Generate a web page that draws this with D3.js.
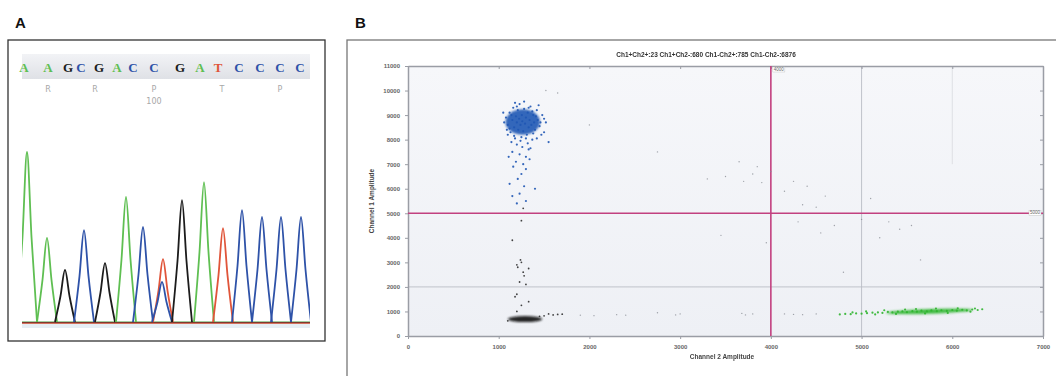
<!DOCTYPE html>
<html>
<head>
<meta charset="utf-8">
<script src="https://cdn.jsdelivr.net/npm/d3@7"></script>
<style>
  body { margin: 0; background: #fff; }
  svg { display: block; }
</style>
</head>
<body>
<svg id="fig" width="1056" height="376"></svg>
<script>
// ---------- panel A: sequencing trace ----------
const bases = ['A', 'A', 'G', 'C', 'G', 'A', 'C', 'C', 'G', 'A', 'T', 'C', 'C', 'C', 'C'];
const basePos = [2, 26, 46, 59, 77, 95, 111, 132, 158, 178, 196, 217, 238, 258, 278];
const aminoAcids = ['R', 'R', 'P', 'T', 'P'];
const aminoPos = [26, 73, 132, 200, 258];
const positionLabel = {text: '100', pos: 132};
const peakBase = ['A', 'A', 'G', 'C', 'G', 'A', 'C', 'T', 'C', 'G', 'A', 'T', 'C', 'C', 'C', 'C', 'C'];
const peakPos = [5, 25, 43, 62, 83, 104, 121, 141, 140, 160, 182, 201, 220, 240, 259, 279, 299];
const peakHeight = [934, 462, 286, 505, 324, 687, 522, 346, 220, 670, 769, 516, 615, 577, 577, 577, 560];

// ---------- panel B: droplet amplitudes ----------
const countsTitle = 'Ch1+Ch2+:23  Ch1+Ch2-:680  Ch1-Ch2+:785  Ch1-Ch2-:6876';
const thresholdCh2 = 4000;
const thresholdCh1 = 5000;
const coreCh2 = [1265, 1290, 5750];
const coreCh1 = [8720, 690, 1000];
const coreRx = [190, 190, 480];
const coreRy = [520, 120, 95];
const coreColor = ['#1f56b4', '#111111', '#2fb52f'];

const blueDroplets = [
  [1080, 8900], [1100, 8600], [1120, 9100], [1130, 8300], [1150, 8800], [1160, 9300], [1170, 8500],
  [1180, 8050], [1190, 8950], [1200, 8700], [1210, 9200], [1215, 8400], [1225, 8850], [1230, 9450],
  [1240, 8600], [1250, 8100], [1255, 9000], [1260, 8750], [1270, 8350], [1280, 9250], [1290, 8650],
  [1300, 8900], [1310, 8200], [1320, 9100], [1330, 8500], [1340, 8800], [1350, 9350], [1360, 8600],
  [1370, 8000], [1380, 9000], [1390, 8700], [1400, 8400], [1420, 9200], [1430, 8800], [1450, 8550],
  [1480, 9000], [1500, 8300], [1520, 8700], [1550, 7900], [1100, 8200], [1140, 7900], [1200, 7800],
  [1260, 7700], [1320, 7850], [1180, 9500], [1280, 9550], [1350, 7650], [1150, 7500], [1230, 7400],
  [1300, 7300], [1190, 7100], [1270, 7000], [1340, 7200], [1160, 6900], [1250, 6600], [1300, 6800],
  [1210, 6400], [1120, 6200], [1280, 6100], [1230, 5800], [1150, 5700], [1300, 5500], [1200, 5400],
  [1400, 6000], [1110, 7300], [1330, 7600], [1060, 8700], [1470, 8200], [1440, 9400], [1050, 9100],
  [1380, 8250], [1410, 8950], [1120, 8450], [1170, 8150], [1330, 9300], [1460, 8700], [1090, 8400],
  [1240, 7950], [1300, 8050], [1370, 9150], [1200, 9350], [1140, 9000], [1500, 8850], [1420, 8050]
];
const blackDroplets = [
  [1550, 900], [1600, 860], [1650, 880], [1700, 890], [1500, 820], [1450, 800], [1100, 620],
  [1200, 1000], [1250, 1250], [1200, 1700], [1330, 1400], [1230, 2200], [1270, 2600], [1210, 2800],
  [1330, 2750], [1250, 3000], [1280, 2450], [1150, 3900], [1250, 4700], [1270, 5200], [1200, 2900],
  [1300, 2100], [1240, 3100], [1180, 1600]
];
const greenDroplets = [
  [4760, 880], [4820, 900], [4880, 890], [4940, 920], [5000, 910], [5060, 930], [5120, 950],
  [5180, 960], [5230, 940], [5290, 980], [5340, 960], [5400, 990], [5450, 1000], [5500, 970],
  [5560, 1010], [5610, 990], [5660, 1030], [5720, 1000], [5770, 1040], [5830, 1010], [5880, 1050],
  [5940, 1020], [6000, 1060], [6050, 1030], [6110, 1070], [6160, 1040], [6220, 1080], [6280, 1060],
  [6330, 1090], [5250, 1050], [5480, 1080], [5700, 920], [5950, 940], [6200, 990], [5150, 880],
  [5380, 900], [5600, 1100], [5820, 1120], [6060, 1130], [6250, 1120], [5050, 1000], [4900, 960]
];
const otherDroplets = [
  [4500, 900], [4350, 870], [4250, 880], [4150, 900], [3800, 900], [3720, 860], [3680, 920],
  [3000, 900], [2950, 860], [2750, 950], [2400, 850], [2300, 870], [2050, 830], [1900, 850],
  [3500, 6500], [3700, 6300], [3800, 6600], [3900, 6250], [3650, 7100], [3850, 6900], [3300, 6400],
  [2750, 7500], [2000, 8600], [1520, 10000], [1650, 9900], [4150, 5900], [4400, 6100], [4600, 5700],
  [4500, 5250], [4350, 5350], [4300, 4650], [4700, 4500], [4550, 4200], [5300, 4650], [5420, 4350],
  [5550, 4500], [5000, 4750], [5200, 4000], [3450, 4100], [3950, 3800], [5650, 3100], [4800, 2600],
  [4000, 6700], [4250, 6300], [5100, 5600]
];

const baseColor = {A: '#5fbf52', C: '#2e52a8', G: '#1c1c1c', T: '#e0553a'};
const sans = 'Liberation Sans, Arial, sans-serif';

const svg = d3.select('#fig');
const defs = svg.append('defs');

// ===== Panel A =====
svg.append('text').attr('x', 15).attr('y', 28)
  .attr('font-family', sans).attr('font-weight', 'bold')
  .attr('font-size', 15).attr('fill', '#111').text('A');

svg.append('rect').attr('x', 8).attr('y', 40).attr('width', 317).attr('height', 301)
  .attr('fill', '#fff').attr('stroke', '#333').attr('stroke-width', 1.3);

const grad = defs.append('linearGradient').attr('id', 'band')
  .attr('x1', 0).attr('x2', 0).attr('y1', 0).attr('y2', 1);
grad.append('stop').attr('offset', 0).attr('stop-color', '#f2f3f6');
grad.append('stop').attr('offset', 1).attr('stop-color', '#dfe1e6');

const tx = d3.scaleLinear().domain([0, 288]).range([22, 310]);
const ty = d3.scaleLinear().domain([0, 1000]).range([322, 140]);

svg.append('rect').attr('x', tx(0)).attr('y', 54).attr('width', tx(288) - tx(0)).attr('height', 25)
  .attr('fill', 'url(#band)');

svg.append('g').selectAll('text').data(bases).join('text')
  .attr('x', (d, i) => tx(basePos[i])).attr('y', 72)
  .attr('text-anchor', 'middle')
  .attr('font-family', 'Liberation Serif, Times New Roman, serif').attr('font-weight', 'bold')
  .attr('font-size', 13).attr('fill', d => baseColor[d]).text(d => d);

svg.append('g').selectAll('text').data(aminoAcids).join('text')
  .attr('x', (d, i) => tx(aminoPos[i])).attr('y', 92)
  .attr('text-anchor', 'middle').attr('font-family', 'DejaVu Sans, sans-serif')
  .attr('font-size', 8).attr('fill', '#a8a8a8').text(d => d);

svg.append('text').attr('x', tx(positionLabel.pos)).attr('y', 104)
  .attr('text-anchor', 'middle').attr('font-family', 'DejaVu Sans, sans-serif')
  .attr('font-size', 8).attr('fill', '#a8a8a8').text(positionLabel.text);

defs.append('clipPath').attr('id', 'traceClip').append('rect')
  .attr('x', tx(0)).attr('y', 120).attr('width', tx(288) - tx(0)).attr('height', 210);

const peakLine = d3.line().x(p => tx(p[0])).y(p => ty(p[1])).curve(d3.curveMonotoneX);
const hw = 9;
const traces = svg.append('g').attr('clip-path', 'url(#traceClip)');

// baseline noise
traces.append('rect').attr('x', tx(0)).attr('y', ty(0) + 2).attr('width', tx(288) - tx(0)).attr('height', 4)
  .attr('fill', '#e6eef4');
['#4a9e46', '#222', '#d9533a'].forEach((c, i) => {
  traces.append('line').attr('x1', tx(0)).attr('x2', tx(288))
    .attr('y1', ty(0) + i * 0.6).attr('y2', ty(0) + i * 0.6)
    .attr('stroke', c).attr('stroke-width', 1.2);
});

traces.selectAll('path.peak').data(peakPos).join('path')
  .attr('class', 'peak')
  .attr('fill', 'none')
  .attr('stroke', (d, i) => baseColor[peakBase[i]])
  .attr('stroke-width', 1.8)
  .attr('d', (d, i) => peakLine([
    [d - hw - 1, 0], [d - hw * 0.5, peakHeight[i] * 0.5], [d, peakHeight[i]],
    [d + hw * 0.5, peakHeight[i] * 0.5], [d + hw + 1, 0]
  ]));

// ===== Panel B =====
svg.append('text').attr('x', 355).attr('y', 28)
  .attr('font-family', sans).attr('font-weight', 'bold')
  .attr('font-size', 15).attr('fill', '#111').text('B');

svg.append('rect').attr('x', 347).attr('y', 40).attr('width', 760).attr('height', 400)
  .attr('fill', '#fff').attr('stroke', '#777').attr('stroke-width', 1.3);

const x = d3.scaleLinear().domain([0, 7000]).range([408, 1043]);
const y = d3.scaleLinear().domain([0, 11000]).range([336, 66]);

const pg = defs.append('linearGradient').attr('id', 'plotbg')
  .attr('x1', 0).attr('x2', 0).attr('y1', 0).attr('y2', 1);
pg.append('stop').attr('offset', 0).attr('stop-color', '#f6f7fa');
pg.append('stop').attr('offset', 1).attr('stop-color', '#eef0f5');

defs.append('filter').attr('id', 'soft').attr('x', '-30%').attr('y', '-30%')
  .attr('width', '160%').attr('height', '160%')
  .append('feGaussianBlur').attr('stdDeviation', 1.2);

svg.append('rect').attr('x', x(0)).attr('y', y(11000))
  .attr('width', x(7000) - x(0)).attr('height', y(0) - y(11000)).attr('fill', 'url(#plotbg)');

// grid
svg.append('line').attr('x1', x(0)).attr('x2', x(7000)).attr('y1', y(2000)).attr('y2', y(2000))
  .attr('stroke', '#b9bcc4').attr('stroke-width', 0.9);
svg.append('line').attr('x1', x(5000)).attr('x2', x(5000)).attr('y1', y(11000)).attr('y2', y(0))
  .attr('stroke', '#b9bcc4').attr('stroke-width', 0.9);
svg.append('line').attr('x1', x(6000)).attr('x2', x(6000)).attr('y1', y(11000)).attr('y2', y(7000))
  .attr('stroke', '#d8dadf').attr('stroke-width', 0.8);

// axes
const fmt = d3.format('d');
const tickFont = g => g.selectAll('text')
  .attr('font-family', sans).attr('font-size', 6)
  .attr('font-weight', 'bold').attr('fill', '#666');
const axisStyle = g => {
  g.select('.domain').attr('stroke', '#9a9da5').attr('stroke-width', 1.5);
  g.selectAll('.tick line').attr('stroke', '#9a9da5');
};

svg.append('g').attr('transform', `translate(0,${y(0)})`)
  .call(d3.axisBottom(x).ticks(7).tickFormat(fmt).tickSize(3).tickSizeOuter(0).tickPadding(6))
  .call(axisStyle).call(tickFont);
svg.append('g').attr('transform', `translate(${x(0)},0)`)
  .call(d3.axisLeft(y).ticks(11).tickFormat(fmt).tickSize(3).tickSizeOuter(0).tickPadding(5))
  .call(axisStyle).call(tickFont);
svg.append('g').attr('transform', `translate(0,${y(11000)})`)
  .call(d3.axisTop(x).ticks(7).tickSize(-3).tickSizeOuter(0).tickFormat(''))
  .call(axisStyle);
svg.append('g').attr('transform', `translate(${x(7000)},0)`)
  .call(d3.axisRight(y).ticks(11).tickSize(-3).tickSizeOuter(0).tickFormat(''))
  .call(axisStyle);

// thresholds
const magenta = '#c2407f';
svg.append('line').attr('x1', x(thresholdCh2)).attr('x2', x(thresholdCh2))
  .attr('y1', y(11000)).attr('y2', y(0)).attr('stroke', magenta).attr('stroke-width', 1.6);
svg.append('line').attr('x1', x(0)).attr('x2', x(7000))
  .attr('y1', y(thresholdCh1)).attr('y2', y(thresholdCh1)).attr('stroke', magenta).attr('stroke-width', 1.6);
svg.append('rect').attr('x', x(thresholdCh2) + 2).attr('y', y(11000) + 1).attr('width', 12).attr('height', 5)
  .attr('fill', '#fff').attr('stroke', '#bbb').attr('stroke-width', 0.4);
svg.append('text').attr('x', x(thresholdCh2) + 8).attr('y', y(11000) + 5.2).attr('text-anchor', 'middle')
  .attr('font-family', sans).attr('font-size', 4.5).attr('fill', '#666')
  .text(thresholdCh2);
svg.append('rect').attr('x', x(7000) - 14).attr('y', y(thresholdCh1) - 3).attr('width', 12).attr('height', 5)
  .attr('fill', '#fff').attr('stroke', '#bbb').attr('stroke-width', 0.4);
svg.append('text').attr('x', x(7000) - 8).attr('y', y(thresholdCh1) + 1.2).attr('text-anchor', 'middle')
  .attr('font-family', sans).attr('font-size', 4.5).attr('fill', '#666')
  .text(thresholdCh1);

// droplet cluster cores
svg.append('g').attr('filter', 'url(#soft)').selectAll('ellipse').data(coreCh2).join('ellipse')
  .attr('cx', d => x(d)).attr('cy', (d, i) => y(coreCh1[i]))
  .attr('rx', (d, i) => x(coreRx[i]) - x(0)).attr('ry', (d, i) => y(0) - y(coreRy[i]))
  .attr('fill', (d, i) => coreColor[i]).attr('opacity', 0.9)
  .attr('transform', (d, i) => i === 2 ? `rotate(-2 ${x(d)} ${y(coreCh1[i])})` : null);

const dots = (data, color, r, op) => svg.append('g').selectAll('circle').data(data).join('circle')
  .attr('cx', d => x(d[0])).attr('cy', d => y(d[1])).attr('r', r)
  .attr('fill', color).attr('opacity', op);

dots(otherDroplets, '#8a8d95', 0.7, 0.8);
dots(blackDroplets, '#222', 0.9, 0.85);
dots(greenDroplets, '#2fb52f', 1.1, 0.9);
dots(blueDroplets, '#1f56b4', 1.1, 0.9);

// titles
svg.append('text').attr('x', 706).attr('y', 57).attr('text-anchor', 'middle')
  .attr('font-family', sans).attr('font-size', 6.5)
  .attr('font-weight', 'bold').attr('fill', '#333').text(countsTitle);
svg.append('text').attr('x', 722).attr('y', 359).attr('text-anchor', 'middle')
  .attr('font-family', sans).attr('font-size', 6.5)
  .attr('font-weight', 'bold').attr('fill', '#444').text('Channel 2 Amplitude');
svg.append('text').attr('transform', `translate(374,${y(5500)}) rotate(-90)`).attr('text-anchor', 'middle')
  .attr('font-family', sans).attr('font-size', 6.5)
  .attr('font-weight', 'bold').attr('fill', '#444').text('Channel 1 Amplitude');
</script>
</body>
</html>
